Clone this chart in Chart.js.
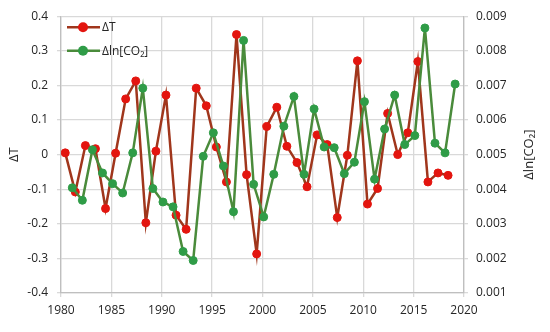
<!DOCTYPE html>
<html><head><meta charset="utf-8">
<script src="https://cdn.jsdelivr.net/npm/chart.js@4.4.1/dist/chart.umd.min.js"></script>
<style>html,body{margin:0;padding:0;background:#fff}#wrap{width:550px;height:332px;position:relative}</style>
</head><body><div id="wrap"><canvas id="c"></canvas></div>
<script>
// ---- data ----
const years = [1980,1981,1982,1983,1984,1985,1986,1987,1988,1989,1990,1991,1992,1993,1994,1995,1996,1997,1998,1999,2000,2001,2002,2003,2004,2005,2006,2007,2008,2009,2010,2011,2012,2013,2014,2015,2016,2017,2018];
const deltaT = [0.005,-0.108,0.026,0.017,-0.156,0.004,0.161,0.213,-0.197,0.010,0.172,-0.175,-0.216,0.192,0.141,0.022,-0.079,0.347,-0.058,-0.287,0.081,0.137,0.024,-0.023,-0.093,0.057,0.029,-0.182,-0.002,0.271,-0.143,-0.098,0.119,0.000,0.063,0.269,-0.079,-0.053,-0.060];
const dlnCO2 = [0.00404,0.00368,0.00514,0.00447,0.00416,0.00389,0.00505,0.00692,0.00402,0.00363,0.00349,0.00220,0.00194,0.00495,0.00563,0.00467,0.00335,0.00830,0.00414,0.00320,0.00443,0.00582,0.00668,0.00443,0.00632,0.00522,0.00520,0.00445,0.00478,0.00653,0.00429,0.00574,0.00672,0.00529,0.00555,0.00866,0.00533,0.00505,0.00704];
const tYearShift = 0.42;    // ΔT points sit within the year
const co2YearShift = 1.12;  // Δln[CO2] points sit at the following year
const xTickLabels = [1980,1985,1990,1995,2000,2005,2010,2015,2020];
const leftTickLabels = [-0.4,-0.3,-0.2,-0.1,0,0.1,0.2,0.3,0.4];
const rightTickLabels = [0.001,0.002,0.003,0.004,0.005,0.006,0.007,0.008,0.009];
const seriesNames = ['ΔT','Δln[CO₂]'];
const axisTitles = {left:'ΔT', right:'Δln[CO₂]'};

// ---- styles ----
const FONT = "'Open Sans', 'DejaVu Sans', sans-serif";
const tLine = '#a0361c', tMarker = '#e3150f';
const cLine = '#4a8b3b', cMarker = '#2f9c47';
const gridCol = '#d9d9d9', axisCol = '#bfbfbf', textCol = '#262626';

const extras = {
  id:'extras',
  afterDraw(chart){
    const ca = chart.chartArea, ctx = chart.ctx;
    // right axis title (reads bottom to top)
    const s = chart.scales.y2;
    ctx.save();
    ctx.translate(s.right - 21, (ca.top + ca.bottom)/2);
    ctx.rotate(-Math.PI/2);
    ctx.fillStyle = textCol;
    ctx.font = "13px " + FONT;
    ctx.textAlign = 'center'; ctx.textBaseline = 'middle';
    ctx.fillText(axisTitles.right, 0, 0);
    ctx.restore();
    // legend inside the plot, top-left
    chart.data.datasets.forEach((ds,i)=>{
      const x0 = ca.left + 6, y = ca.top + 11 + i*23.5;
      ctx.save();
      ctx.strokeStyle = ds.borderColor; ctx.lineWidth = 2.5;
      ctx.beginPath(); ctx.moveTo(x0, y); ctx.lineTo(x0+33, y); ctx.stroke();
      ctx.fillStyle = ds.pointBackgroundColor;
      ctx.beginPath(); ctx.arc(x0+16, y, 5, 0, Math.PI*2); ctx.fill();
      ctx.fillStyle = textCol; ctx.font = "12px " + FONT;
      ctx.textAlign = 'left'; ctx.textBaseline = 'middle';
      ctx.fillText(ds.label, x0 + 35, y + 0.5);
      ctx.restore();
    });
  }
};

new Chart(document.getElementById('c'), {
  type: 'line',
  data: {
    datasets: [
      {
        label: seriesNames[0],
        data: years.map((y,i)=>({x:y+tYearShift, y:deltaT[i]})),
        yAxisID:'y', borderColor:tLine, backgroundColor:tMarker,
        pointBackgroundColor:tMarker, pointBorderColor:tMarker,
        pointRadius:4, pointBorderWidth:1, borderWidth:2.5, order:1, tension:0
      },
      {
        label: seriesNames[1],
        data: years.map((y,i)=>({x:y+co2YearShift, y:dlnCO2[i]})),
        yAxisID:'y2', borderColor:cLine, backgroundColor:cMarker,
        pointBackgroundColor:cMarker, pointBorderColor:cMarker,
        pointRadius:4, pointBorderWidth:1, borderWidth:2.5, order:0, tension:0
      }
    ]
  },
  options: {
    responsive:true, maintainAspectRatio:false, animation:false,
    layout:{padding:{top:15,left:0,right:0,bottom:0}},
    plugins:{ tooltip:{enabled:false}, legend:{display:false} },
    scales:{
      x:{
        type:'linear', min:xTickLabels[0], max:xTickLabels[xTickLabels.length-1],
        afterBuildTicks(s){ s.ticks = xTickLabels.map(v=>({value:v})); },
        afterFit(s){ s.height = 39; },
        grid:{color:gridCol, lineWidth:1.3, tickLength:4},
        border:{color:axisCol, width:1.3},
        ticks:{padding:6, color:textCol, font:{family:FONT,size:12}, callback:v=>String(v), maxRotation:0}
      },
      y:{
        position:'left', min:-0.4, max:0.4,
        afterBuildTicks(s){ s.ticks = leftTickLabels.map(v=>({value:v})); },
        afterFit(s){ s.width = 61; },
        grid:{color:gridCol, lineWidth:1.3, tickLength:4},
        border:{color:axisCol, width:1.3},
        ticks:{padding:9, color:textCol, font:{family:FONT,size:12}, callback:v=>(Math.abs(v)<1e-9?'0':v.toFixed(1))},
        title:{display:true, text:axisTitles.left, color:textCol, font:{family:FONT,size:13}, padding:{top:6,bottom:0}}
      },
      y2:{
        position:'right', min:0.001, max:0.009,
        afterBuildTicks(s){ s.ticks = rightTickLabels.map(v=>({value:v})); },
        afterFit(s){ s.width = 86; },
        grid:{drawOnChartArea:false, color:gridCol, lineWidth:1.3, tickLength:4},
        border:{color:axisCol, width:1.3},
        ticks:{padding:8, color:textCol, font:{family:FONT,size:12}, callback:v=>v.toFixed(3)}
      }
    }
  },
  plugins:[extras]
});
</script>
</body></html>
